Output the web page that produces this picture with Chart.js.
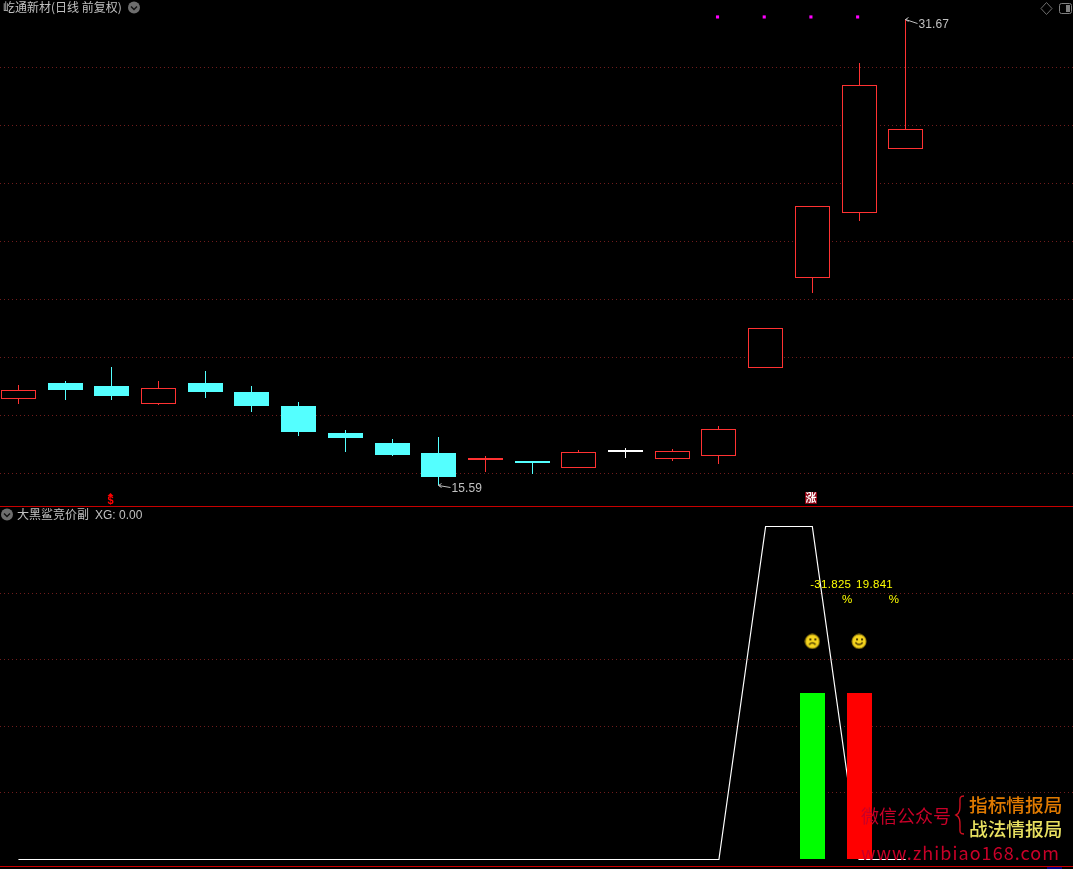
<!DOCTYPE html>
<html>
<head>
<meta charset="utf-8">
<script src="https://cdn.jsdelivr.net/npm/chart.js@4/dist/chart.umd.min.js"></script>
<style>
  html, body { margin: 0; background: #000; width: 1073px; height: 869px; overflow: hidden; }
  canvas { position: absolute; left: 0; }
  #precio { top: 0; }
  #indicador { top: 507px; }
  .txt { position: absolute; white-space: nowrap; font-family: "Noto Sans CJK SC", sans-serif; line-height: 1; }
  .linea { position: absolute; left: 0; width: 1073px; height: 1px; background: #c80000; }
  svg { position: absolute; }
</style>
</head>
<body>
<canvas id="precio" width="1073" height="506"></canvas>
<canvas id="indicador" width="1073" height="362"></canvas>

<div class="linea" style="top:506px"></div>
<div class="linea" style="top:866px"></div>
<div style="position:absolute;left:1047px;top:867px;width:15px;height:2px;background:#000080"></div>

<div class="txt" style="left:3px;top:1px;font-size:12px;color:#c0c0c0">屹通新材(日线 前复权)</div>
<div class="txt" style="left:17px;top:508px;font-size:12px;color:#c0c0c0">大黑鲨竞价副</div>
<div class="txt" style="left:95px;top:509px;font-size:12px;color:#c0c0c0;font-family:'Liberation Sans'">XG: 0.00</div>

<!-- iconos de la cabecera -->
<svg style="left:127px;top:0" width="14" height="14"><circle cx="7" cy="7.5" r="6" fill="#6e6e6e"/><path d="M4 6.5l3 3 3-3" stroke="#111" stroke-width="1.4" fill="none"/></svg>
<svg style="left:0;top:507px" width="14" height="14"><circle cx="7" cy="7.5" r="6" fill="#6e6e6e"/><path d="M4 6.5l3 3 3-3" stroke="#111" stroke-width="1.4" fill="none"/></svg>
<svg style="left:1040px;top:2px" width="13" height="13"><path d="M6.5 0.5l5.5 6-5.5 6-5.5-6z" stroke="#6e6e6e" fill="none"/></svg>
<svg style="left:1058px;top:2px" width="15" height="13"><rect x="1.5" y="1.5" width="12" height="10" rx="2" stroke="#808080" fill="none"/><rect x="8" y="3" width="4" height="7" fill="#808080"/></svg>

<!-- marca de agua -->
<div class="txt" style="left:861px;top:806px;font-size:18px;color:#c80028">微信公众号</div>
<svg style="left:953px;top:794px" width="14" height="42"><path d="M11 2c-5 0-4 3-4 8s0 9-4 11c4 2 4 6 4 11s-1 8 4 8" stroke="#d01020" stroke-width="1.4" fill="none"/></svg>
<div class="txt" style="left:969px;top:795px;font-size:18.7px;font-weight:500;color:#e07a00">指标情报局</div>
<div class="txt" style="left:969px;top:819px;font-size:18.7px;font-weight:500;color:#e8e060">战法情报局</div>
<div class="txt" style="left:861px;top:843px;font-size:18px;letter-spacing:1.05px;color:#c80028">www.zhibiao168.com</div>

<script>
// Datos: velas diarias (precio) e indicador XG
const dias     = [0, 1, 2, 3, 4, 5, 6, 7, 8, 9, 10, 11, 12, 13, 14, 15, 16, 17, 18, 19];
const apertura = [18.57, 19.11, 19.01, 18.40, 19.11, 18.80, 18.32, 17.38, 17.04, 16.69, 16.45, 16.39, 16.18, 16.73, 16.49, 16.59, 19.63, 22.73, 24.98, 27.18];
const cierre   = [18.86, 18.87, 18.66, 18.93, 18.80, 18.32, 17.42, 17.21, 16.63, 15.87, 16.52, 16.34, 16.73, 16.73, 16.76, 17.52, 21.01, 25.22, 29.39, 27.87];
const maximo   = [19.04, 19.18, 19.66, 19.18, 19.52, 19.01, 18.45, 17.49, 17.18, 17.25, 16.59, 16.39, 16.80, 16.87, 16.83, 17.63, 21.01, 25.22, 30.15, 31.67];
const minimo   = [18.40, 18.52, 18.52, 18.35, 18.59, 18.11, 17.28, 16.73, 16.59, 15.59, 16.04, 15.97, 16.18, 16.52, 16.42, 16.31, 19.63, 22.22, 24.70, 27.18];

const diasMarca   = [14.97, 15.97, 16.97, 17.97];
const precioMarca = [31.74, 31.74, 31.74, 31.74];

const xg = [0, 0, 0, 0, 0, 0, 0, 0, 0, 0, 0, 0, 0, 0, 0, 0, 1, 1, 0, 0];
const diasBarra = [17, 18];
const barras = [0.5, 0.5];
const porcentajes = ['-31.825', '19.841'];
const caras = [0.655, 0.655];

const ROJO = '#ff3232', CIAN = '#54ffff', REJILLA = '#701c1c';

// la escala x es comun a los dos paneles
const ejeX = { type: 'linear', min: -0.39443, max: 22.582, offset: false, display: false };

function color(i) {
  if (apertura[i] === cierre[i]) return '#ffffff';
  return cierre[i] > apertura[i] ? ROJO : CIAN;
}

// Redondea las barras al pixel para que los bordes queden nitidos
const nitido = {
  id: 'nitido',
  beforeDatasetsDraw(chart) {
    chart.data.datasets.forEach((ds, n) => {
      if (ds.type === 'line') return;
      chart.getDatasetMeta(n).data.forEach(b => {
        b.x = Math.floor(b.x) + 0.5;
        b.y = Math.round(b.y);
        b.base = Math.round(b.base);
      });
    });
  }
};

// Etiquetas del maximo y minimo con su flecha, y las señales de abajo
const extremos = {
  id: 'extremos',
  afterDatasetsDraw(chart) {
    const { x, y } = chart.scales;
    const ctx = chart.ctx;
    const dibuja = (i, valor, dy) => {
      const px = Math.floor(x.getPixelForValue(i)) + 0.5;
      const py = Math.round(y.getPixelForValue(valor)) + 0.5;
      ctx.strokeStyle = '#c0c0c0';
      ctx.beginPath();
      ctx.moveTo(px + 12, py + dy);
      ctx.lineTo(px, py);
      ctx.moveTo(px + 3, py - 2); ctx.lineTo(px, py); ctx.lineTo(px + 3, py + 2);
      ctx.stroke();
      ctx.fillStyle = '#c0c0c0';
      ctx.font = '12px "Liberation Sans"';
      ctx.letterSpacing = '0.1px';
      ctx.textBaseline = 'middle';
      ctx.fillText(valor.toFixed(2), px + 13, py + dy + 1);
      ctx.letterSpacing = '0px';
    };
    dibuja(19, maximo[19], 4);
    dibuja(9, minimo[9], 2);

    const xd = x.getPixelForValue(2) - 1.3;
    ctx.fillStyle = '#ff0000';
    ctx.beginPath();
    ctx.moveTo(xd - 3, 496); ctx.lineTo(xd, 493); ctx.lineTo(xd + 3, 496);
    ctx.fill();
    ctx.font = 'bold 11px "Liberation Sans"';
    ctx.textAlign = 'center';
    ctx.fillText('$', xd, 501);
    const xs = Math.round(x.getPixelForValue(17));
    ctx.fillStyle = '#8c0010';
    ctx.fillRect(xs - 7, 492, 12, 12);
    ctx.fillStyle = '#ffffff';
    ctx.font = 'bold 11px "Noto Sans CJK SC"';
    ctx.fillText('涨', xs - 1, 498);
    ctx.textAlign = 'left';
  }
};

new Chart(document.getElementById('precio'), {
  type: 'bar',
  plugins: [nitido, extremos],
  data: {
    datasets: [
      {
        label: 'mecha',
        data: dias.map(i => ({ x: i, y: [minimo[i], maximo[i]] })),
        backgroundColor: dias.map(color),
        barThickness: 1,
        inflateAmount: 0,
        grouped: false,
        order: 2
      },
      {
        label: 'cuerpo',
        data: dias.map(i => ({ x: i, y: [apertura[i], cierre[i]] })),
        backgroundColor: dias.map(i => cierre[i] > apertura[i] ? '#000000' : color(i)),
        borderColor: dias.map(color),
        borderWidth: 1,
        borderSkipped: false,
        inflateAmount: 0,
        minBarLength: 2,
        barThickness: 35,
        grouped: false,
        order: 1
      },
      {
        type: 'line',
        label: 'marca',
        data: diasMarca.map((d, i) => ({ x: d, y: precioMarca[i] })),
        showLine: false,
        pointStyle: 'rect',
        pointRadius: 2.2,
        pointBackgroundColor: '#ff00ff',
        pointBorderWidth: 0,
        order: 0
      }
    ]
  },
  options: {
    responsive: false,
    animation: false,
    layout: { padding: 0, autoPadding: false },
    plugins: { legend: { display: false }, tooltip: { enabled: false } },
    scales: {
      x: ejeX,
      y: {
        min: 14.865,
        max: 32.325,
        ticks: { display: false, stepSize: 2 },
        afterBuildTicks: s => { s.ticks = s.ticks.filter(t => t.value % 2 === 0); },
        border: { display: false, dash: [1, 3] },
        grid: { color: REJILLA, drawTicks: false }
      }
    }
  }
});

// Caritas amarillas como pointStyle
function cara(triste) {
  const c = document.createElement('canvas');
  c.width = c.height = 16;
  const g = c.getContext('2d');
  g.fillStyle = '#f5d41e';
  g.strokeStyle = '#b89a10';
  g.beginPath(); g.arc(8, 8, 7, 0, 7); g.fill(); g.stroke();
  g.fillStyle = g.strokeStyle = '#4a3a00';
  g.fillRect(5, 5, 2, 2);
  g.fillRect(10, 5, 2, 2);
  g.lineWidth = 1.4;
  g.beginPath();
  if (triste) g.arc(8, 13, 3.5, Math.PI * 1.15, Math.PI * 1.85);
  else g.arc(8, 7, 4, Math.PI * 0.15, Math.PI * 0.85);
  g.stroke();
  return c;
}

const rotulos = {
  id: 'rotulos',
  afterDatasetsDraw(chart) {
    const { x, y } = chart.scales;
    const ctx = chart.ctx;
    ctx.fillStyle = '#ffff00';
    ctx.font = '11.5px "Liberation Sans"';
    ctx.textBaseline = 'middle';
    ctx.textAlign = 'right';
    diasBarra.forEach((d, i) => {
      const px = x.getPixelForValue(d);
      const py = y.getPixelForValue(0.825);
      ctx.letterSpacing = '0.3px';
      ctx.fillText(porcentajes[i], px + (i ? 34 : 39), py);
      ctx.letterSpacing = '0px';
      ctx.fillText('%', px + 40, py + 15);
    });
    ctx.textAlign = 'left';
  }
};

new Chart(document.getElementById('indicador'), {
  type: 'bar',
  plugins: [nitido, rotulos],
  data: {
    datasets: [
      {
        type: 'line',
        label: 'XG',
        data: dias.map(i => ({ x: i, y: xg[i] })),
        borderColor: '#ffffff',
        borderWidth: 1.2,
        pointRadius: 0,
        tension: 0,
        order: 2
      },
      {
        label: 'barras',
        data: diasBarra.map((d, i) => ({ x: d, y: [0, barras[i]] })),
        backgroundColor: ['#00ff00', '#ff0000'],
        barThickness: 25,
        inflateAmount: 0,
        grouped: false,
        order: 1
      },
      {
        type: 'line',
        label: 'caras',
        data: diasBarra.map((d, i) => ({ x: d, y: caras[i] })),
        showLine: false,
        pointStyle: [cara(true), cara(false)],
        order: 0
      }
    ]
  },
  options: {
    responsive: false,
    animation: false,
    layout: { padding: 0, autoPadding: false },
    plugins: { legend: { display: false }, tooltip: { enabled: false } },
    scales: {
      x: ejeX,
      y: {
        min: -0.02853,
        max: 1.05856,
        ticks: { display: false, stepSize: 0.2 },
        afterBuildTicks: s => { s.ticks = [0.2, 0.4, 0.6, 0.8].map(value => ({ value })); },
        border: { display: false, dash: [1, 3] },
        grid: { color: REJILLA, drawTicks: false }
      }
    }
  }
});
</script>
</body>
</html>
